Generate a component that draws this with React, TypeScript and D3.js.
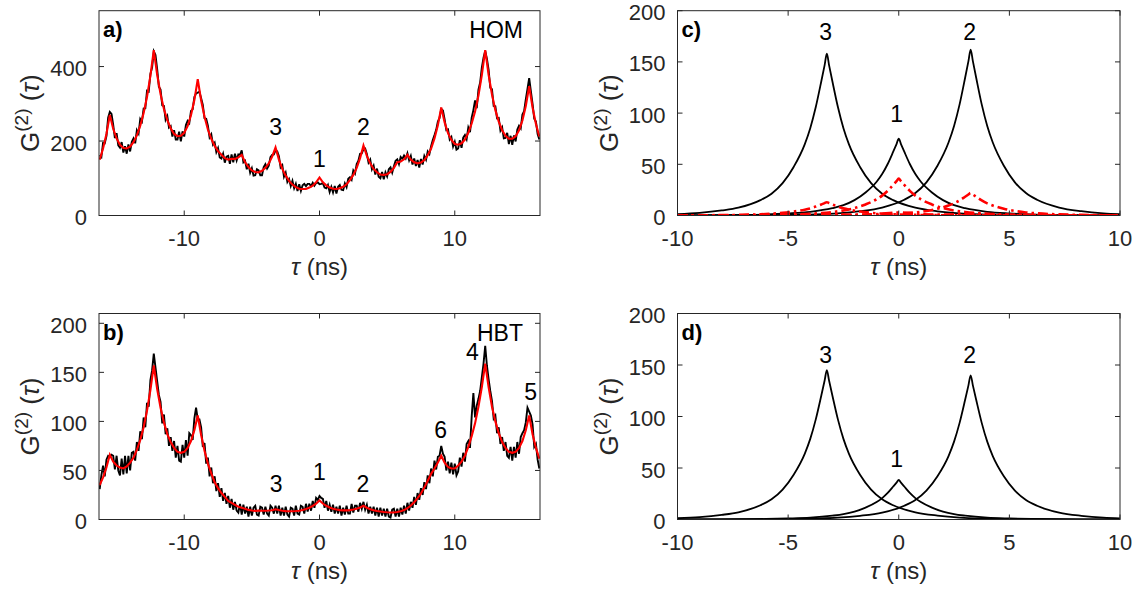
import React from 'react';
import * as d3 from 'd3';

// ---------------- DATA ----------------
// Panel a (HOM) fit, tau = -16.25 .. 16.25 step 0.25
const HOM_FIT_START = -16.25;
const HOM_FIT_STEP = 0.25;
const HOM_FIT = [
  150, 180, 219, 270, 233, 207, 190, 181, 180, 185, 197, 215, 241, 275, 319, 375,
  444, 378, 326, 286, 256, 234, 219, 213, 214, 222, 240, 269, 310, 366, 309, 265,
  231, 206, 187, 173, 163, 154, 150, 152, 152, 156, 163, 143, 130, 121, 117, 116,
  120, 128, 140, 158, 183, 150, 125, 107, 93, 83, 76, 72, 71, 71, 75, 80,
  89, 102, 89, 81, 75, 72, 71, 73, 77, 84, 95, 109, 128, 154, 188, 160,
  140, 125, 116, 110, 109, 111, 117, 128, 143, 145, 151, 163, 150, 143, 140, 142,
  149, 162, 180, 207, 242, 290, 250, 221, 203, 192, 190, 194, 204, 222, 247, 279,
  322, 377, 444, 378, 325, 283, 252, 229, 214, 206, 206, 213, 229, 255, 294, 347,
  290, 246, 212,
];
// Panel a (HOM) measured counts, tau = -16.25 .. 16.25 step 0.125
const HOM_DATA_START = -16.25;
const HOM_DATA_STEP = 0.125;
const HOM_DATA = [
  162, 157, 195, 194, 213, 263, 278, 273, 243, 208, 221, 188, 182, 197, 169, 186,
  166, 191, 172, 198, 207, 194, 229, 220, 259, 252, 287, 288, 335, 333, 380, 397,
  441, 431, 393, 346, 338, 296, 294, 257, 267, 236, 240, 212, 229, 204, 204, 225,
  199, 226, 212, 243, 254, 248, 281, 285, 318, 328, 330, 332, 315, 297, 261, 260,
  241, 210, 218, 190, 196, 170, 181, 156, 153, 166, 142, 158, 160, 139, 164, 143,
  166, 148, 164, 163, 175, 143, 147, 124, 139, 115, 127, 107, 108, 124, 121, 108,
  108, 130, 138, 126, 134, 157, 163, 164, 175, 172, 159, 129, 135, 104, 115, 90,
  98, 79, 93, 73, 85, 66, 84, 66, 81, 85, 79, 85, 85, 79, 88, 80,
  87, 89, 84, 85, 87, 75, 73, 82, 63, 77, 62, 79, 59, 77, 82, 69,
  68, 86, 76, 99, 103, 96, 121, 113, 138, 147, 166, 167, 178, 180, 165, 142,
  150, 124, 134, 110, 126, 104, 100, 117, 97, 116, 105, 124, 129, 115, 132, 147,
  151, 138, 157, 152, 161, 153, 167, 148, 160, 137, 153, 133, 149, 129, 152, 137,
  160, 150, 172, 165, 186, 203, 216, 230, 252, 262, 286, 282, 258, 229, 231, 204,
  211, 185, 198, 177, 180, 202, 182, 209, 216, 205, 236, 224, 263, 283, 309, 288,
  338, 357, 397, 424, 442, 421, 392, 343, 339, 294, 293, 261, 262, 228, 237, 207,
  208, 222, 192, 214, 190, 215, 199, 231, 241, 234, 271, 280, 312, 340, 369, 334,
  300, 260, 252, 219, 204,
];

// Panel b (HBT) fit
const HBT_FIT_START = -16.25;
const HBT_FIT_STEP = 0.25;
const HBT_FIT = [
  35, 43, 53, 66, 59, 55, 53, 52, 54, 58, 63, 71, 81, 94, 111, 132,
  157, 133, 114, 99, 87, 79, 73, 69, 68, 69, 73, 80, 91, 106, 86, 70,
  57, 47, 38, 32, 27, 23, 19, 17, 15, 13, 12, 11, 9.8, 9.1, 8.8, 9.0,
  8.9, 8.9, 9.1, 9.4, 10.4, 9.6, 8.9, 8.5, 8.4, 8.4, 8.6, 9.0, 9.7, 10.7, 12, 13.9,
  16.2, 19.4, 16.3, 14, 12.3, 11, 10.2, 9.6, 9.3, 9.3, 9.6, 10.1, 11, 12.3, 14, 12,
  10.5, 9.5, 8.7, 8.1, 7.7, 7.4, 7.2, 7.2, 7.6, 8.3, 9.6, 11.5, 14.2, 17.6, 21.8, 26.5,
  32.5, 39.5, 46.5, 52, 58, 65, 58, 53.5, 52, 52, 55, 59, 65, 74, 85, 98,
  115, 135, 159, 135, 115, 100, 88, 79, 73, 69, 68, 69, 73, 80, 91, 106,
  87, 73, 62,
];
// Panel b (HBT) measured counts
const HBT_DATA_START = -16.25;
const HBT_DATA_STEP = 0.125;
const HBT_DATA = [
  31, 45, 55, 44, 61, 65, 64, 66, 65, 51, 65, 50, 45, 62, 46, 65,
  47, 65, 50, 68, 69, 60, 79, 70, 90, 82, 104, 94, 119, 115, 142, 152,
  169, 155, 141, 127, 120, 98, 107, 87, 93, 75, 84, 70, 80, 63, 75, 60,
  59, 76, 63, 81, 65, 88, 86, 81, 103, 114, 102, 102, 94, 74, 78, 57,
  63, 44, 53, 37, 44, 29, 37, 23, 32, 19, 27, 16, 24, 12, 21, 10,
  18, 9, 7, 16, 5, 15, 6, 13, 3, 13, 4, 12, 14, 5, 4, 13,
  12, 5, 13, 6, 4, 14, 12, 6, 14, 6, 14, 4, 12, 4, 13, 5,
  3, 12, 11, 4, 14, 6, 5, 14, 13, 6, 16, 8, 16, 9, 19, 12,
  22, 20, 24, 22, 21, 12, 19, 9, 15, 8, 15, 6, 13, 6, 14, 4,
  12, 5, 14, 6, 6, 16, 7, 14, 14, 8, 17, 11, 18, 10, 15, 6,
  13, 6, 13, 4, 12, 3, 12, 4, 11, 3, 11, 3, 2, 10, 11, 3,
  11, 3, 12, 5, 14, 6, 17, 9, 18, 12, 23, 15, 27, 20, 32, 25,
  38, 31, 45, 37, 52, 44, 60, 51, 64, 65, 75, 67, 64, 50, 59, 47,
  58, 46, 57, 45, 49, 63, 54, 68, 59, 77, 80, 73, 105, 129, 104, 116,
  123, 131, 145, 159, 177, 157, 143, 131, 121, 103, 106, 88, 94, 77, 84, 70,
  79, 65, 63, 74, 60, 74, 63, 79, 67, 84, 88, 91, 99, 114, 110, 106,
  97, 74, 77, 61, 52,
];

// Panel c: model contributions [tau, G2]
const C_PEAK3 = [
  [-10, 1.3], [-9, 2.5], [-8, 4.9], [-7.25, 7.6], [-6.25, 15], [-5.75, 21.3], [-5.25, 31.6],
  [-4.75, 47.4], [-4.25, 69.5], [-4, 85.3], [-3.75, 105.9], [-3.5, 131.1], [-3.35, 146.9],
  [-3.25, 158], [-3.15, 146.9], [-3, 131.1], [-2.75, 105.9], [-2.5, 85.3], [-2.25, 69.5],
  [-1.75, 47.4], [-1.25, 31.6], [-0.75, 21.3], [-0.25, 15], [0.75, 7.6], [1.75, 4.1],
  [2.75, 2.1], [3.75, 1.1], [4.75, 0.6], [6.75, 0.25], [10, 0.1],
];
const C_PEAK2 = [
  [-10, 0.1], [-6.75, 0.25], [-4.75, 0.65], [-3.75, 1.1], [-2.75, 2.1], [-1.75, 4.2],
  [-0.75, 7.8], [0.25, 15.4], [0.75, 21.9], [1.25, 32.4], [1.75, 48.6], [2.25, 71.3],
  [2.5, 87.5], [2.75, 108.5], [3, 134.5], [3.15, 150.7], [3.25, 162], [3.35, 150.7],
  [3.5, 134.5], [3.75, 108.5], [4, 87.5], [4.25, 71.3], [4.75, 48.6], [5.25, 32.4],
  [5.75, 21.9], [6.25, 15.4], [7.25, 7.8], [8.25, 4.2], [9.25, 2.1], [10, 1.35],
];
const C_PEAK1 = [
  [-10, 0.1], [-8, 0.3], [-7, 0.5], [-6, 1], [-5, 2], [-4, 3.6], [-3, 7.1], [-2.5, 10.1],
  [-2, 15], [-1.5, 22.5], [-1, 33], [-0.75, 40.5], [-0.5, 50.3], [-0.25, 62.3], [-0.1, 69.8],
  [0, 75], [0.1, 69.8], [0.25, 62.3], [0.5, 50.3], [0.75, 40.5], [1, 33], [1.5, 22.5],
  [2, 15], [2.5, 10.1], [3, 7.1], [4, 3.6], [5, 2], [6, 1], [7, 0.5], [8, 0.3], [10, 0.1],
];
const C_RED_1 = [
  [-10, 0.05], [-6, 0.5], [-5, 0.9], [-4, 1.7], [-3, 3.4], [-2.5, 4.9], [-2, 7.2], [-1.5, 10.8],
  [-1, 15.8], [-0.75, 19.4], [-0.5, 24.1], [-0.25, 29.9], [-0.1, 33.5], [0, 36], [0.1, 33.5],
  [0.25, 29.9], [0.5, 24.1], [0.75, 19.4], [1, 15.8], [1.5, 10.8], [2, 7.2], [2.5, 4.9],
  [3, 3.4], [4, 1.7], [5, 0.9], [6, 0.5], [10, 0.05],
];
const C_RED_2 = [
  [-10, 0.02], [-2.75, 0.3], [-1.75, 0.6], [-0.75, 1.1], [0.25, 2.1], [0.75, 3], [1.25, 4.4],
  [1.75, 6.6], [2.25, 9.7], [2.5, 11.9], [2.75, 14.7], [3, 18.3], [3.15, 20.5], [3.25, 22],
  [3.35, 20.5], [3.5, 18.3], [3.75, 14.7], [4, 11.9], [4.25, 9.7], [4.75, 6.6], [5.25, 4.4],
  [5.75, 3], [6.25, 2.1], [7.25, 1.1], [8.25, 0.6], [9.25, 0.3], [10, 0.2],
];
const C_RED_3 = [
  [-10, 0.1], [-9.25, 0.17], [-8.25, 0.34], [-7.25, 0.62], [-6.25, 1.2], [-5.75, 1.8],
  [-5.25, 2.6], [-4.75, 3.9], [-4.25, 5.7], [-4, 7], [-3.75, 8.7], [-3.5, 10.8], [-3.35, 12.1],
  [-3.25, 13], [-3.15, 12.1], [-3, 10.8], [-2.75, 8.7], [-2.5, 7], [-2.25, 5.7], [-1.75, 3.9],
  [-1.25, 2.6], [-0.75, 1.8], [-0.25, 1.2], [0.75, 0.62], [1.75, 0.34], [2.75, 0.17], [10, 0.02],
];
const C_RED_4 = [[-10, 0], [-4, 0.15], [-2, 0.6], [-1, 1.3], [0, 3], [1, 1.3], [2, 0.6], [4, 0.15], [10, 0]];
const C_RED_5 = [[-10, 0], [0, 0.2], [1.25, 0.4], [2.25, 0.9], [3.25, 2], [4.25, 0.9], [5.25, 0.4], [7, 0.1], [10, 0]];
const C_RED_6 = [[-10, 0], [-7, 0.1], [-5.25, 0.3], [-4.25, 0.66], [-3.25, 1.5], [-2.25, 0.66], [-1.25, 0.3], [0, 0.15], [10, 0]];

// Panel d
const D_PEAK3 = [
  [-10, 1.2], [-9, 2.3], [-8, 4.5], [-7.25, 7], [-6.25, 13.8], [-5.75, 19.6], [-5.25, 29],
  [-4.75, 43.5], [-4.25, 63.8], [-4, 78.3], [-3.75, 97.2], [-3.5, 120.4], [-3.35, 134.9],
  [-3.25, 145], [-3.15, 134.9], [-3, 120.4], [-2.75, 97.2], [-2.5, 78.3], [-2.25, 63.8],
  [-1.75, 43.5], [-1.25, 29], [-0.75, 19.6], [-0.25, 13.8], [0.75, 7], [1.75, 3.8],
  [2.75, 1.9], [3.75, 1], [4.75, 0.6], [6.75, 0.22], [10, 0.07],
];
const D_PEAK2 = [
  [-10, 0.07], [-6.75, 0.22], [-4.75, 0.56], [-3.75, 1], [-2.75, 1.8], [-1.75, 3.6],
  [-0.75, 6.7], [0.25, 13.3], [0.75, 18.9], [1.25, 28], [1.75, 42], [2.25, 61.6],
  [2.5, 75.6], [2.75, 93.8], [3, 116.2], [3.15, 130.2], [3.25, 140], [3.35, 130.2],
  [3.5, 116.2], [3.75, 93.8], [4, 75.6], [4.25, 61.6], [4.75, 42], [5.25, 28],
  [5.75, 18.9], [6.25, 13.3], [7.25, 6.7], [8.25, 3.6], [9.25, 1.8], [10, 1.16],
];
const D_PEAK1 = [
  [-10, 0.06], [-8, 0.15], [-7, 0.27], [-6, 0.5], [-5, 1], [-4, 1.8], [-3, 3.7], [-2.5, 5.2],
  [-2, 7.7], [-1.5, 11.6], [-1, 16.9], [-0.75, 20.8], [-0.5, 25.8], [-0.25, 32], [-0.1, 35.8],
  [0, 38.5], [0.1, 35.8], [0.25, 32], [0.5, 25.8], [0.75, 20.8], [1, 16.9], [1.5, 11.6],
  [2, 7.7], [2.5, 5.2], [3, 3.7], [4, 1.8], [5, 1], [6, 0.5], [7, 0.27], [8, 0.15], [10, 0.06],
];

// Ticks and annotations
const AB_XTICKS = [-10, 0, 10];
const A_YTICKS = [0, 200, 400];
const B_YTICKS = [0, 50, 100, 150, 200];
const CD_XTICKS = [-10, -5, 0, 5, 10];
const CD_YTICKS = [0, 50, 100, 150, 200];

const A_LABELS = [
  { t: '3', x: -3.25, y: 215 },
  { t: '1', x: 0, y: 130 },
  { t: '2', x: 3.25, y: 215 },
];
const B_LABELS = [
  { t: '3', x: -3.2, y: 28.5 },
  { t: '1', x: 0, y: 40 },
  { t: '2', x: 3.2, y: 28.5 },
  { t: '6', x: 8.95, y: 83 },
  { t: '4', x: 11.3, y: 163 },
  { t: '5', x: 15.6, y: 122 },
];
const C_LABELS = [
  { t: '3', x: -3.3, y: 171 },
  { t: '1', x: -0.1, y: 91.5 },
  { t: '2', x: 3.2, y: 171 },
];
const D_LABELS = [
  { t: '3', x: -3.3, y: 152 },
  { t: '1', x: -0.1, y: 51 },
  { t: '2', x: 3.2, y: 152 },
];

// ---------------- RENDER ----------------
const FONT = '"Liberation Sans", Arial, Helvetica, sans-serif';
const AXC = '#262626';
const TICK_FS = 22;

type Pt = number[];

function series(start: number, step: number, vals: number[]): Pt[] {
  return vals.map((v, i) => [start + i * step, v]);
}

interface PanelProps {
  id: string;
  x0: number; x1: number; y0: number; y1: number;
  xDomain: [number, number]; yDomain: [number, number];
  xTicks: number[]; yTicks: number[];
  letter: string;
  tag?: string;
  labels: { t: string; x: number; y: number }[];
  render: (x: d3.ScaleLinear<number, number>, y: d3.ScaleLinear<number, number>) => React.ReactNode;
}

function Panel(p: PanelProps) {
  const x = d3.scaleLinear().domain(p.xDomain).range([p.x0, p.x1]);
  const y = d3.scaleLinear().domain(p.yDomain).range([p.y1, p.y0]);
  const tl = 5;
  return (
    <g>
      <defs>
        <clipPath id={`clip-${p.id}`}>
          <rect x={p.x0} y={p.y0} width={p.x1 - p.x0} height={p.y1 - p.y0} />
        </clipPath>
      </defs>
      <g clipPath={`url(#clip-${p.id})`}>{p.render(x, y)}</g>
      <rect x={p.x0} y={p.y0} width={p.x1 - p.x0} height={p.y1 - p.y0} fill="none" stroke={AXC} strokeWidth={1} />
      {p.xTicks.map((t) => (
        <g key={`xt${t}`}>
          <line x1={x(t)} x2={x(t)} y1={p.y1} y2={p.y1 - tl} stroke={AXC} strokeWidth={1} />
          <line x1={x(t)} x2={x(t)} y1={p.y0} y2={p.y0 + tl} stroke={AXC} strokeWidth={1} />
          <text x={x(t)} y={p.y1 + 30} textAnchor="middle" fontSize={TICK_FS} fill={AXC}>{t}</text>
        </g>
      ))}
      {p.yTicks.map((t) => (
        <g key={`yt${t}`}>
          <line x1={p.x0} x2={p.x0 + tl} y1={y(t)} y2={y(t)} stroke={AXC} strokeWidth={1} />
          <line x1={p.x1} x2={p.x1 - tl} y1={y(t)} y2={y(t)} stroke={AXC} strokeWidth={1} />
          <text x={p.x0 - 12} y={y(t) + 9.5} textAnchor="end" fontSize={TICK_FS} fill={AXC}>{t}</text>
        </g>
      ))}
      <text x={(p.x0 + p.x1) / 2} y={p.y1 + 59} textAnchor="middle" fontSize={24} fill={AXC}>
        <tspan fontStyle="italic">τ</tspan> (ns)
      </text>
      <text transform={`translate(${p.x0 - 60},${(p.y0 + p.y1) / 2}) rotate(-90)`} textAnchor="middle" fontSize={26} fill={AXC}>
        G<tspan dy={-11} fontSize={19}>(2)</tspan><tspan dy={11}> (</tspan><tspan fontStyle="italic">τ</tspan>)
      </text>
      <text x={p.x0 + 4} y={p.y0 + 26} fontSize={22} fontWeight="bold" fill="#000">{p.letter}</text>
      {p.tag && (
        <text x={p.x1 - 17} y={p.y0 + 27} textAnchor="end" fontSize={23} fill="#000">{p.tag}</text>
      )}
      {p.labels.map((l, i) => (
        <text key={i} x={x(l.x)} y={y(l.y)} textAnchor="middle" fontSize={23} fill="#000">{l.t}</text>
      ))}
    </g>
  );
}

function path(x: any, y: any, pts: Pt[], curve: any = d3.curveLinear) {
  return d3.line<Pt>().x((d) => x(d[0])).y((d) => y(d[1])).curve(curve)(pts) || '';
}

export default function App() {
  const LEFT = { x0: 99, x1: 540 };
  const RIGHT = { x0: 677.5, x1: 1120 };
  const TOP = { y0: 10.7, y1: 215.5 };
  const BOT = { y0: 313.5, y1: 519.5 };
  const dashRed = '10,4,2.5,4';
  return (
    <svg width={1136} height={592} style={{ position: 'fixed', left: 0, top: 0, background: '#fff' }} fontFamily={FONT}>
      <rect x={0} y={0} width={1136} height={592} fill="#fff" />
      <Panel id="a" {...LEFT} {...TOP} xDomain={[-16.3, 16.3]} yDomain={[0, 550]} xTicks={AB_XTICKS} yTicks={A_YTICKS}
        letter="a)" tag="HOM" labels={A_LABELS}
        render={(x, y) => (
          <g>
            <path d={path(x, y, series(HOM_DATA_START, HOM_DATA_STEP, HOM_DATA))} fill="none" stroke="#000" strokeWidth={1.9} strokeLinejoin="miter" />
            <path d={path(x, y, series(HOM_FIT_START, HOM_FIT_STEP, HOM_FIT))} fill="none" stroke="#ff0000" strokeWidth={2.1} />
          </g>
        )} />
      <Panel id="b" {...LEFT} {...BOT} xDomain={[-16.3, 16.3]} yDomain={[0, 210]} xTicks={AB_XTICKS} yTicks={B_YTICKS}
        letter="b)" tag="HBT" labels={B_LABELS}
        render={(x, y) => (
          <g>
            <path d={path(x, y, series(HBT_DATA_START, HBT_DATA_STEP, HBT_DATA))} fill="none" stroke="#000" strokeWidth={1.9} strokeLinejoin="miter" />
            <path d={path(x, y, series(HBT_FIT_START, HBT_FIT_STEP, HBT_FIT))} fill="none" stroke="#ff0000" strokeWidth={2.1} />
          </g>
        )} />
      <Panel id="c" {...RIGHT} {...TOP} xDomain={[-10, 10]} yDomain={[0, 200]} xTicks={CD_XTICKS} yTicks={CD_YTICKS}
        letter="c)" labels={C_LABELS}
        render={(x, y) => (
          <g>
            {[C_PEAK3, C_PEAK2, C_PEAK1].map((c, i) => (
              <path key={i} d={path(x, y, c, d3.curveMonotoneX)} fill="none" stroke="#000" strokeWidth={1.8} />
            ))}
            {[C_RED_4, C_RED_5, C_RED_6, C_RED_3, C_RED_2, C_RED_1].map((c, i) => (
              <path key={i} d={path(x, y, c, d3.curveMonotoneX)} fill="none" stroke="#ff0000" strokeWidth={2.6} strokeDasharray={dashRed} />
            ))}
          </g>
        )} />
      <Panel id="d" {...RIGHT} {...BOT} xDomain={[-10, 10]} yDomain={[0, 200]} xTicks={CD_XTICKS} yTicks={CD_YTICKS}
        letter="d)" labels={D_LABELS}
        render={(x, y) => (
          <g>
            {[D_PEAK3, D_PEAK2, D_PEAK1].map((c, i) => (
              <path key={i} d={path(x, y, c, d3.curveMonotoneX)} fill="none" stroke="#000" strokeWidth={1.8} />
            ))}
          </g>
        )} />
    </svg>
  );
}
